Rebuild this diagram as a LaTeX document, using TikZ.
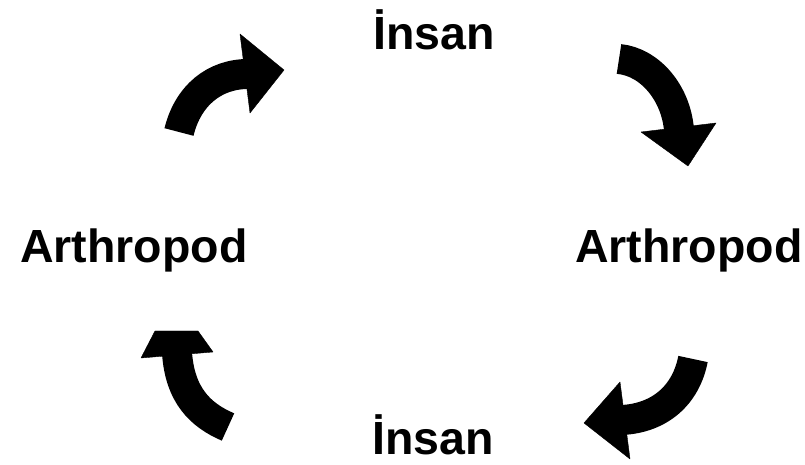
\documentclass[tikz,border=0pt]{standalone}
\usepackage{fontspec}
\setmainfont{Liberation Sans}
\begin{document}
\begin{tikzpicture}[x=1pt,y=1pt,
  lbl/.style={anchor=base west, inner sep=0pt, font=\fontsize{46.5}{50}\selectfont\bfseries},
  shaft/.style={line width=30pt, black},
  head/.style={fill=black, draw=black, line join=round}]
\useasboundingbox (0,0) rectangle (805,465);
\fill[white] (0,0) rectangle (805,465);
% labels
\node[lbl] (top) at (373,415) {İnsan};
\node[lbl] (left) at (20,202) {Arthropod};
\node[lbl] (right) at (575,202) {Arthropod};
\node[lbl] (bottom) at (372,10) {İnsan};
% arrow 1 (top-left)
\draw[shaft] (179,333) .. controls (188,370) and (215,391) .. (248,391);
\fill[head] (240,431) -- (284,395) -- (250,352) -- cycle;
% arrow 2 (top-right)
\draw[shaft] (619,406) .. controls (650,403) and (676,372) .. (679,335);
\fill[head] (641,333) -- (716,342) -- (688,299) -- cycle;
% arrow 3 (bottom-right)
\draw[shaft] (693,106) .. controls (686,70) and (660,47) .. (622,45);
\fill[head] (620,83) -- (630,6) -- (584,42) -- cycle;
% arrow 4 (bottom-left)
\draw[shaft] (177,112) .. controls (180,70) and (200,50) .. (228,38);
\fill[head] (141,107) -- (155,134) -- (198,134) -- (213,113) -- cycle;
\end{tikzpicture}
\end{document}
